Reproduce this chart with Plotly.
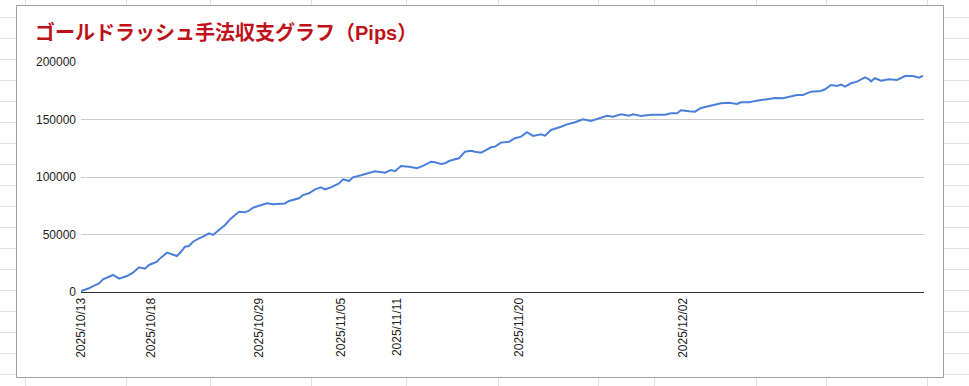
import plotly.graph_objects as go

# ---- data (trade index along the x axis, cumulative pips) ----
trade_idx = [0, 4, 6, 9, 11, 14, 16, 19, 23, 26, 29, 32, 34, 38, 39, 43, 45, 48, 50, 52,
             54, 56, 59, 61, 64, 66, 69, 72, 75, 79, 82, 84, 86, 89, 93, 96, 99, 102, 104, 106,
             109, 111, 114, 117, 120, 122, 125, 129, 131, 134, 136, 140, 143, 147, 152, 155, 157, 160, 164, 168,
             171, 175, 177, 180, 182, 184, 187, 189, 192, 195, 197, 200, 202, 205, 207, 210, 214, 217, 220, 223,
             226, 230, 232, 235, 240, 243, 247, 251, 255, 259, 263, 266, 270, 274, 276, 280, 285, 292, 295, 298,
             300, 304, 307, 310, 314, 320, 324, 328, 330, 334, 338, 342, 347, 351, 355, 358, 361, 365, 370, 372,
             375, 378, 380, 382, 385, 388, 392, 394, 395, 397, 400, 404, 408, 410, 412, 416, 419, 421]
pips = [800, 3200, 5200, 7500, 11000, 13300, 14800, 11600, 13900, 16800, 21500, 20300, 23500, 26300, 28400, 34200, 33000, 31300, 35000, 39400,
        40000, 43700, 46700, 48100, 51000, 49600, 53900, 58300, 64000, 69800, 69300, 70700, 73300, 74800, 77100, 76300, 76500, 77000, 79200, 80000,
        81500, 84300, 85800, 89300, 91000, 89300, 91000, 94500, 98000, 96500, 99700, 101500, 103200, 105000, 103800, 106100, 105000, 109600, 109000, 107600,
        109600, 113300, 112800, 111300, 111900, 113900, 115400, 116300, 122000, 122900, 122000, 121100, 122900, 125800, 126400, 129900, 130700, 133700, 135100, 138900,
        135700, 137100, 135900, 140900, 143700, 145800, 147600, 150200, 148700, 151000, 153300, 152500, 154500, 153300, 154500, 153000, 154200, 154200, 155400, 155400,
        158000, 157100, 156800, 160000, 161400, 164100, 164600, 163500, 165000, 165000, 166400, 167600, 168700, 168400, 169800, 171300, 171300, 174200, 174800, 176300,
        180000, 179100, 180300, 178500, 181500, 182900, 186700, 185000, 183200, 185900, 183700, 185000, 184400, 185900, 187800, 187800, 186300, 188100]

tick_idx = [0, 35, 89, 130, 158, 219, 301]
tick_labels = ["2025/10/13", "2025/10/18", "2025/10/29", "2025/11/05",
               "2025/11/11", "2025/11/20", "2025/12/02"]
y_ticks = [0, 50000, 100000, 150000, 200000]

title_text = "ゴールドラッシュ手法収支グラフ（Pips）"

# ---- layout geometry (pixels) ----
W, H = 969, 386
L, R, T, B = 81, 924, 62, 292


def px(x):
    return (x - L) / (R - L)


def py(y):
    return (B - y) / (B - T)


shapes = []
grid_col = "#e1e1e1"
# spreadsheet background grid
y = 17.5
while y < H:
    shapes.append(dict(type="line", xref="paper", yref="paper", x0=px(0), x1=px(W),
                       y0=py(y), y1=py(y), line=dict(color=grid_col, width=1), layer="below"))
    y += 21
for vx in [25.5, 126.5, 210.5, 311.5, 406.5, 498.5, 598.5, 654.5, 756.5, 826.5, 927.5]:
    shapes.append(dict(type="line", xref="paper", yref="paper", x0=px(vx), x1=px(vx),
                       y0=py(0), y1=py(H), line=dict(color=grid_col, width=1), layer="below"))
# chart frame
shapes.append(dict(type="rect", xref="paper", yref="paper", x0=px(16.5), x1=px(943.5),
                   y0=py(5.5), y1=py(377.5), fillcolor="white",
                   line=dict(color="#9e9e9e", width=1), layer="below"))

fig = go.Figure()
fig.add_trace(go.Scatter(x=trade_idx, y=pips, mode="lines",
                         line=dict(color="#4a7fdc", width=2), hoverinfo="y"))

font_family = "Liberation Sans, Arial, Noto Sans CJK JP"
fig.update_layout(
    width=W, height=H,
    margin=dict(l=L, r=W - R, t=T, b=H - B, pad=0),
    paper_bgcolor="white", plot_bgcolor="white",
    showlegend=False,
    shapes=shapes,
    title=dict(text=title_text, x=35 / W, xref="container", xanchor="left",
               y=1 - 33 / H, yref="container", yanchor="middle",
               font=dict(family="Liberation Sans, Noto Sans CJK JP", size=20,
                         color="#bf1119", weight="bold")),
    xaxis=dict(range=[0, 421.5], tickvals=tick_idx, ticktext=tick_labels,
               tickangle=-90, showgrid=False, zeroline=False,
               showline=True, linecolor="#333333", linewidth=1,
               ticks="", tickfont=dict(family=font_family, size=12, color="#222222")),
    yaxis=dict(range=[0, 200000], tickvals=y_ticks, tickformat="d",
               showgrid=True, gridcolor="#cccccc", gridwidth=1, zeroline=False,
               showline=False, ticks="", ticklabelstandoff=4,
               tickfont=dict(family=font_family, size=12, color="#222222")),
)

fig.write_html("out.html")
